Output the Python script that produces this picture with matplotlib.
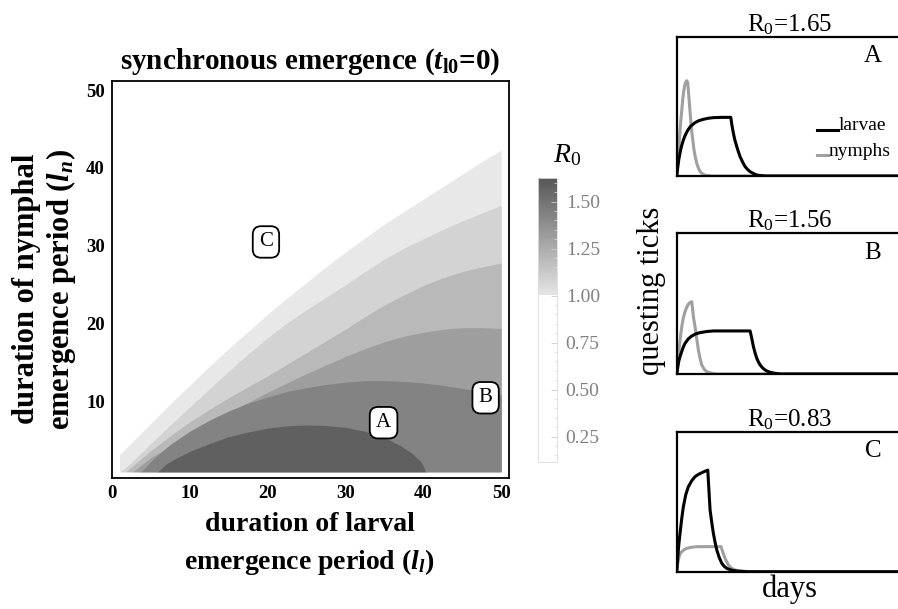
import matplotlib
matplotlib.use("Agg")
import matplotlib.pyplot as plt
from matplotlib.colors import LinearSegmentedColormap, Normalize
from matplotlib.cm import ScalarMappable
from matplotlib.ticker import MultipleLocator

plt.rcParams['font.family'] = ['Liberation Serif', 'DejaVu Serif']
plt.rcParams['mathtext.fontset'] = 'custom'
plt.rcParams['mathtext.rm'] = 'Liberation Serif'
plt.rcParams['mathtext.it'] = 'Liberation Serif:italic'
plt.rcParams['mathtext.bf'] = 'Liberation Serif:bold'
plt.rcParams['mathtext.bfit'] = 'Liberation Serif:italic:bold'

# ---- contour band boundaries, l_n at given l_l ----
ll_a = [1, 2.5, 5, 7.5, 10, 12.5, 15, 17.5, 20, 22.5, 25, 27.5, 30, 32.5, 35, 37.5, 40, 42.5, 45, 47.5, 50]
ln_a = [3.2, 4.7, 7.2, 9.7, 12.1, 14.5, 16.8, 19.0, 21.2, 23.3, 25.3, 27.3, 29.2, 31.0, 32.8, 34.4, 36.0, 37.6, 39.2, 40.8, 42.3]
ll_b = [1.1, 2.5, 5, 7.5, 10, 12.5, 15, 17.5, 20, 22.5, 25, 27.5, 30, 32.5, 35, 37.5, 40, 42.5, 45, 47.5, 50]
ln_b = [1.0, 2.2, 4.6, 7.0, 9.3, 11.6, 13.9, 16.1, 18.2, 20.1, 21.8, 23.4, 25.0, 26.7, 28.3, 29.7, 30.9, 32.1, 33.2, 34.2, 35.2]
ll_c = [1.8, 2.5, 5, 7.5, 10, 12.5, 15, 17.5, 20, 22.5, 25, 27.5, 30, 32.5, 35, 37.5, 40, 42.5, 45, 47.5, 50]
ln_c = [1.0, 1.6, 3.7, 5.6, 7.4, 9.0, 10.5, 11.9, 13.3, 14.8, 16.3, 17.8, 19.3, 20.9, 22.4, 23.7, 24.9, 25.9, 26.7, 27.3, 27.8]
ll_d = [2.7, 5, 7.5, 10, 12.5, 15, 17.5, 20, 22.5, 25, 27.5, 30, 32.5, 35, 37.5, 40, 42.5, 45, 47.5, 50]
ln_d = [1.0, 2.8, 4.3, 5.8, 7.2, 8.6, 9.9, 11.2, 12.4, 13.6, 14.7, 15.8, 16.8, 17.7, 18.4, 18.9, 19.3, 19.5, 19.5, 19.4]
ll_e = [3.75, 5.5, 7.5, 10, 12.5, 15, 17.5, 20, 22.5, 25, 27.5, 30, 32.5, 35, 37.5, 40, 42.5, 45, 47.5, 50]
ln_e = [1.0, 2.8, 4.5, 6.2, 7.6, 8.8, 9.8, 10.6, 11.3, 11.8, 12.2, 12.5, 12.7, 12.7, 12.6, 12.4, 12.1, 11.7, 11.3, 10.9]
ll_f = [5.9, 7, 8, 10, 12.5, 15, 17.5, 20, 22.5, 25, 27.5, 30, 32.5, 35, 37, 38.5, 39.7, 40.1, 40.3]
ln_f = [1.0, 2.0, 2.6, 3.6, 4.6, 5.5, 6.1, 6.6, 6.9, 7.0, 6.95, 6.7, 6.2, 5.4, 4.4, 3.4, 2.3, 1.5, 1.0]
band_colors = ['#e8e8e8', '#d3d3d3', '#b9b9b9', '#9e9e9e', '#838383', '#606060']

# colorbar
cb_ticks = [0.25, 0.50, 0.75, 1.00, 1.25, 1.50]

# ---- questing tick curves (arbitrary units) ----
A_lar_x = [0, 1, 2, 3, 4, 5, 6.6, 8, 10, 11.6, 14, 18.3, 22, 26.6, 31, 36.6, 45, 54, 55, 56.6, 58, 60,
           62, 63.3, 66, 68.3, 71, 73.3, 77, 80, 85, 90, 230]
A_lar_y = [0, 0.06, 0.115, 0.155, 0.19, 0.22, 0.258, 0.285, 0.315, 0.335, 0.358, 0.383, 0.397, 0.407, 0.414,
           0.419, 0.421, 0.421, 0.37, 0.306, 0.26, 0.21, 0.165, 0.138, 0.097, 0.067, 0.045, 0.031, 0.016,
           0.007, 0.002, 0, 0]
A_nym_x = [0, 1, 2, 3, 4, 5, 6, 7, 8, 9, 10, 11, 12, 13, 14, 15, 16, 17, 18, 20, 22, 24, 26, 28, 32, 36, 230]
A_nym_y = [0, 0.09, 0.2, 0.3, 0.39, 0.47, 0.55, 0.61, 0.65, 0.675, 0.684, 0.67, 0.58, 0.49, 0.40, 0.32,
           0.26, 0.20, 0.155, 0.091, 0.05, 0.027, 0.014, 0.007, 0.002, 0, 0]

B_lar_x = [0, 1, 2, 3.3, 5, 6.6, 8.3, 11.6, 15, 19, 23.3, 30, 36.6, 73.3, 75, 76.6, 78.3, 80, 81.6, 83.3,
           85.8, 88.3, 91.6, 95, 100, 103.3, 230]
B_lar_y = [0, 0.045, 0.09, 0.123, 0.16, 0.193, 0.218, 0.25, 0.27, 0.285, 0.294, 0.302, 0.306, 0.306, 0.25,
           0.194, 0.148, 0.111, 0.085, 0.064, 0.043, 0.028, 0.016, 0.009, 0.003, 0, 0]
B_nym_x = [0, 1, 2.6, 4, 5, 6.6, 8.3, 10, 11.6, 13.3, 15, 16, 17, 18.3, 20, 21.6, 23.3, 25, 27.5, 30, 35, 40, 230]
B_nym_y = [0, 0.08, 0.194, 0.28, 0.336, 0.40, 0.443, 0.475, 0.497, 0.508, 0.514, 0.45, 0.39, 0.336, 0.25,
           0.171, 0.11, 0.064, 0.033, 0.016, 0.005, 0, 0]

C_lar_x = [0, 1, 2, 3.3, 5, 6.6, 9, 11.6, 15, 18.3, 21.6, 25, 28, 31, 32, 33.3, 35, 36.6, 38.3, 40, 42.5,
           45, 47.5, 50, 55, 60, 70, 230]
C_lar_y = [0, 0.1, 0.19, 0.274, 0.38, 0.464, 0.55, 0.607, 0.65, 0.679, 0.695, 0.707, 0.717, 0.726, 0.6,
           0.441, 0.35, 0.274, 0.21, 0.155, 0.1, 0.06, 0.038, 0.024, 0.011, 0.005, 0, 0]
C_nym_x = [0, 1, 2.3, 3.5, 5, 7.5, 10, 15, 20, 44.3, 46, 48.3, 50, 51.6, 54, 56.6, 60, 63.3, 70, 80, 230]
C_nym_y = [0, 0.06, 0.107, 0.13, 0.143, 0.158, 0.167, 0.175, 0.179, 0.179, 0.14, 0.095, 0.07, 0.048, 0.03,
           0.017, 0.009, 0.005, 0.002, 0, 0]

panel_R0 = ['1.65', '1.56', '0.83']
panel_tags = ['A', 'B', 'C']

fig = plt.figure(figsize=(8.98, 6.09), dpi=100)

# ---- main contour panel ----
ax = fig.add_axes([0.1244, 0.2151, 0.4424, 0.6524])
bounds = [(ll_a, ln_a), (ll_b, ln_b), (ll_c, ln_c), (ll_d, ln_d), (ll_e, ln_e), (ll_f, ln_f)]
for (xs, ys), col in zip(bounds, band_colors):
    ax.fill_between(xs, 1.0, ys, color=col, lw=0)
ax.set_xlim(0, 51)
ax.set_ylim(0.2, 51.2)
ax.set_xticks([0, 10, 20, 30, 40, 50])
ax.set_yticks([10, 20, 30, 40, 50])
ax.tick_params(length=0, labelsize=13.5, pad=5)
for lab in ax.get_xticklabels() + ax.get_yticklabels():
    lab.set_fontweight('bold')
for s in ax.spines.values():
    s.set_linewidth(1.3)

box = dict(boxstyle='round,pad=0.3,rounding_size=0.4', fc='white', ec='black', lw=1.3)
ax.text(34.9, 7.3, 'A', ha='center', va='center', fontsize=15, bbox=box)
ax.text(48.0, 10.5, 'B', ha='center', va='center', fontsize=15, bbox=box)
ax.text(19.8, 30.5, 'C', ha='center', va='center', fontsize=15, bbox=box)

fig.text(0.345, 0.898, r'synchronous emergence ($\mathbfit{t}_{\mathbf{l0}}$=0)',
         ha='center', va='center', fontsize=21, fontweight='bold')
fig.text(0.345, 0.138, 'duration of larval', ha='center', va='center',
         fontsize=20, fontweight='bold')
fig.text(0.345, 0.077, r'emergence period ($\mathbfit{l}_{\mathbfit{l}}$)', ha='center', va='center',
         fontsize=20, fontweight='bold')
fig.text(0.030, 0.525, 'duration of nymphal', ha='center', va='center',
         fontsize=22, fontweight='bold', rotation=90)
fig.text(0.068, 0.525, r'emergence period ($\mathbfit{l}_{\mathbfit{n}}$)', ha='center', va='center',
         fontsize=22, fontweight='bold', rotation=90)

# ---- colorbar ----
vmin, vmax = 0.117, 1.626
p1 = (1.0 - vmin) / (vmax - vmin)
cmap = LinearSegmentedColormap.from_list(
    'r0', [(0, 'white'), (p1, 'white'), (p1 + 0.001, '#e6e6e6'), (1, '#575757')])
cax = fig.add_axes([0.5995, 0.2419, 0.0212, 0.4658])
cb = fig.colorbar(ScalarMappable(Normalize(vmin, vmax), cmap), cax=cax)
cb.set_ticks(cb_ticks)
cb.ax.set_yticklabels(['%.2f' % t for t in cb_ticks])
cb.ax.yaxis.set_minor_locator(MultipleLocator(0.05))
cb.ax.tick_params(which='major', direction='in', length=4, width=0.6, color='#cccccc',
                  labelsize=14, labelcolor='#808080', pad=6)
cb.ax.tick_params(which='minor', direction='in', length=2, width=0.5, color='#dddddd')
cb.outline.set_edgecolor('#dddddd')
cb.outline.set_linewidth(0.6)
fig.text(0.632, 0.745, r'$R_0$', ha='center', va='center', fontsize=20)

# ---- right panels ----
panel_rects = [[0.7536, 0.711, 0.252, 0.2287],
               [0.7536, 0.3859, 0.252, 0.231],
               [0.7536, 0.0612, 0.252, 0.2299]]
larvae = [(A_lar_x, A_lar_y), (B_lar_x, B_lar_y), (C_lar_x, C_lar_y)]
nymphs = [(A_nym_x, A_nym_y), (B_nym_x, B_nym_y), (C_nym_x, C_nym_y)]
for i in range(3):
    pa = fig.add_axes(panel_rects[i])
    pa.plot(nymphs[i][0], nymphs[i][1], color='#a0a0a0', lw=2.2, solid_joinstyle='round')
    pa.plot(larvae[i][0], larvae[i][1], color='black', lw=2.2, solid_joinstyle='round')
    pa.set_xlim(0, 226)
    pa.set_ylim(0, 1)
    pa.set_xticks([])
    pa.set_yticks([])
    for s in pa.spines.values():
        s.set_linewidth(1.6)
    pa.set_title(r'R$_0$=' + panel_R0[i], fontsize=18, pad=4)
    pa.text(0.867, 0.86, panel_tags[i], transform=pa.transAxes, ha='center', va='center', fontsize=18)
    if i == 0:
        pa.plot([0.619, 0.714], [0.33, 0.33], color='black', lw=2.2, transform=pa.transAxes)
        pa.text(0.716, 0.36, 'larvae', transform=pa.transAxes, ha='left', va='center', fontsize=14)
        pa.plot([0.619, 0.669], [0.151, 0.151], color='#a0a0a0', lw=2.2, transform=pa.transAxes)
        pa.text(0.672, 0.175, 'nymphs', transform=pa.transAxes, ha='left', va='center', fontsize=14)
    if i == 2:
        pa.set_xlabel('days', fontsize=22, labelpad=2)

fig.text(0.726, 0.523, 'questing ticks', ha='center', va='center', fontsize=22, rotation=90)

fig.savefig('out.png', dpi=100)
